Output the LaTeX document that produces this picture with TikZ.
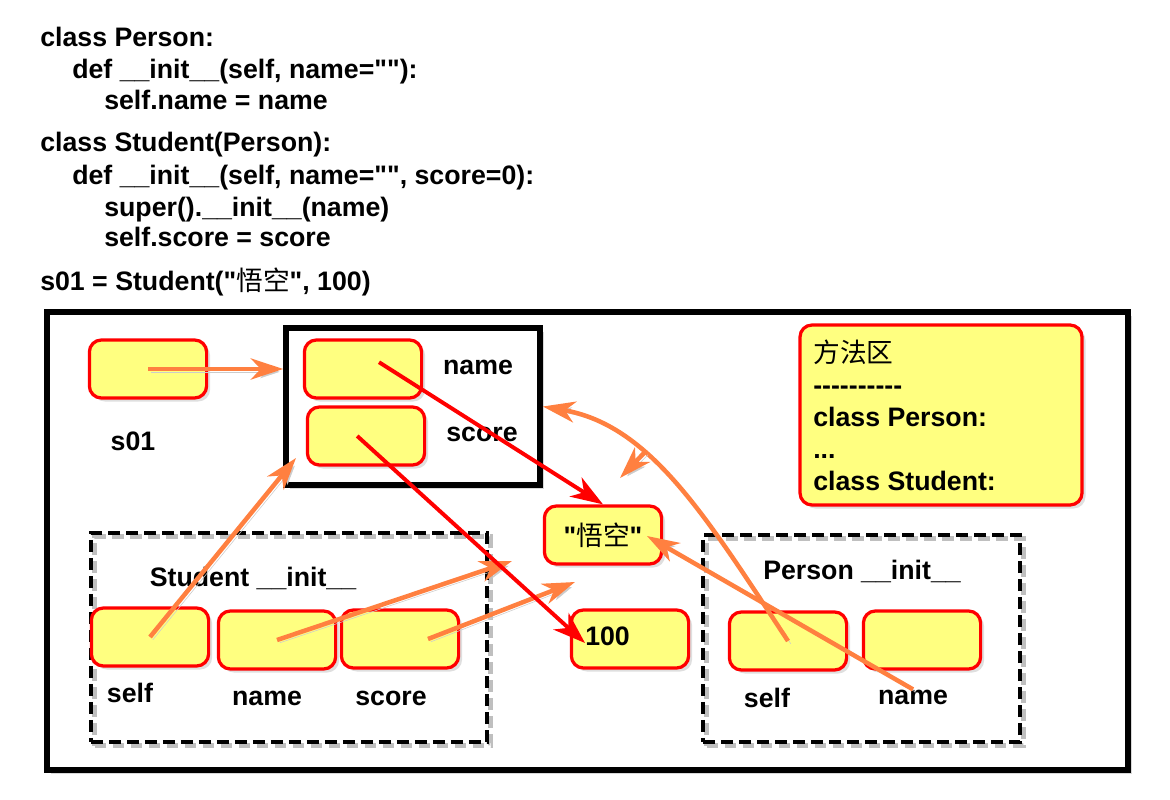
\documentclass[tikz,border=0pt]{standalone}
\usepackage{fontspec}
\setmainfont{Liberation Sans}[Ligatures=TeXOff]
\newfontfamily\cjk{Noto Sans CJK SC}
\usetikzlibrary{arrows.meta,shadows,fit}
\definecolor{cellyellow}{RGB}{255,255,128}
\definecolor{refcolor}{RGB}{255,128,64}

\begin{document}
\begin{tikzpicture}[x=0.025cm, y=-0.025cm,
	txt/.style={font=\fontsize{19}{22.8}\selectfont\bfseries, inner sep=0pt},
	cell/.style={draw=red, line width=2.3pt, fill=cellyellow, rounded corners=0.3cm,
		minimum width=2.93cm, minimum height=1.45cm, inner sep=0pt,
		drop shadow={opacity=0.25, shadow xshift=2.5pt, shadow yshift=-2.5pt}},
	frame/.style={draw=black, line width=4pt, fill=white, inner sep=0pt,
		drop shadow={opacity=0.3, shadow xshift=3pt, shadow yshift=-3pt}},
	dashframe/.style={draw=black, line width=3pt, dash pattern=on 8.5pt off 4.3pt, inner sep=0pt,
		preaction={draw=black!25, transform canvas={shift={(2.5pt,-2.5pt)}}}},
	ref/.style={draw=refcolor, line width=3.2pt, -{Stealth[length=23pt, width=15pt, inset=7pt]},
		preaction={draw=black!20, transform canvas={shift={(2pt,-2pt)}}}},
	val/.style={draw=red, line width=2.8pt, -{Stealth[length=23pt, width=16pt, inset=7pt]}}]
	\useasboundingbox[fill=white] (0,0) rectangle (1170,800);
	% source code
	\node[txt, anchor=base west] (c1) at (40,47) {class Person:};
	\node[txt, anchor=base west] (c2) at (72,79) {def \_\_init\_\_(self, name=""):};
	\node[txt, anchor=base west] (c3) at (104,110) {self.name = name};
	\node[txt, anchor=base west] (c4) at (40,152) {class Student(Person):};
	\node[txt, anchor=base west] (c5) at (72,185) {def \_\_init\_\_(self, name="", score=0):};
	\node[txt, anchor=base west] (c6) at (104,217) {super().\_\_init\_\_(name)};
	\node[txt, anchor=base west] (c7) at (104,247) {self.score = score};
	\node[txt, anchor=base west] (c8) at (40,290) {s01 = Student("{\cjk\mdseries 悟空}", 100)};
	% memory
	\node[frame, fit={(47,312) (1128,770)}] (mem) {};
	\node[frame, fit={(286,328) (540,485)}] (obj) {};
	\node[dashframe, fit={(91,533) (487,742)}] (sinit) {};
	\node[dashframe, fit={(703,535) (1020,742)}] (pinit) {};
	\node[cell, fit={(800,325) (1082,505)}] (methods) {};
	\node[txt, anchor=west, align=left] (mtext) at (813,415)
		{{\cjk\mdseries 方法区}\\----------\\class Person:\\...\\class Student:};
	\node[cell] (s01cell) at (148,369) {};
	\node[txt] (s01lbl) at (133,441) {s01};
	\node[cell] (namecell) at (363,369) {};
	\node[cell] (scorecell) at (366,436) {};
	\node[txt] (namelbl) at (478,367) {name};
	\node[txt] (scorelbl) at (482,434) {score};
	\node[cell, txt, draw=red, line width=2.3pt] (wukong) at (603,535) {"{\cjk\mdseries 悟空}"};
	\node[cell] (hundred) at (630,639) {};
	\node[txt, anchor=west] (hundredtxt) at (585,636) {100};
	\node[txt] (sinitlbl) at (253,578) {Student \_\_init\_\_};
	\node[cell] (sself) at (150,637) {};
	\node[cell] (sname) at (277,640) {};
	\node[cell] (sscore) at (400,639) {};
	\node[txt] (sselflbl) at (130,693) {self};
	\node[txt] (snamelbl) at (267,698) {name};
	\node[txt] (sscorelbl) at (391,698) {score};
	\node[txt] (pinitlbl) at (862,571) {Person \_\_init\_\_};
	\node[cell] (pself) at (788,641) {};
	\node[cell] (pname) at (922,640) {};
	\node[txt] (pselflbl) at (767,698) {self};
	\node[txt] (pnamelbl) at (913,697) {name};
	% references
	\coordinate (tipself) at (296,458);
	\coordinate (tipname) at (512,561);
	\coordinate (tipscore) at (575,582);
	\coordinate (tipwk) at (647,536);
	\coordinate (kink) at (645,452);
	\coordinate (tipkink) at (620,478);
	\coordinate (tip100) at (585,643);
	\draw[ref] (s01cell.center) -- (s01cell.center -| obj.west);
	\draw[ref] (sself.center) -- (tipself);
	\draw[ref] (sname.center) -- (tipname);
	\draw[ref] ([xshift=0.7cm]sscore.center) -- (tipscore);
	\draw[ref] (pnamelbl.north) -- (tipwk);
	\draw[ref] (pself.center) .. controls (705,515) and (650,425) .. (obj.east);
	\draw[ref] (kink) -- (tipkink);
	\draw[val] ([xshift=0.4cm, yshift=0.17cm]namecell.center) -- (wukong.north);
	\draw[val] ([xshift=-0.22cm]scorecell.center) -- (tip100);
\end{tikzpicture}
\end{document}
